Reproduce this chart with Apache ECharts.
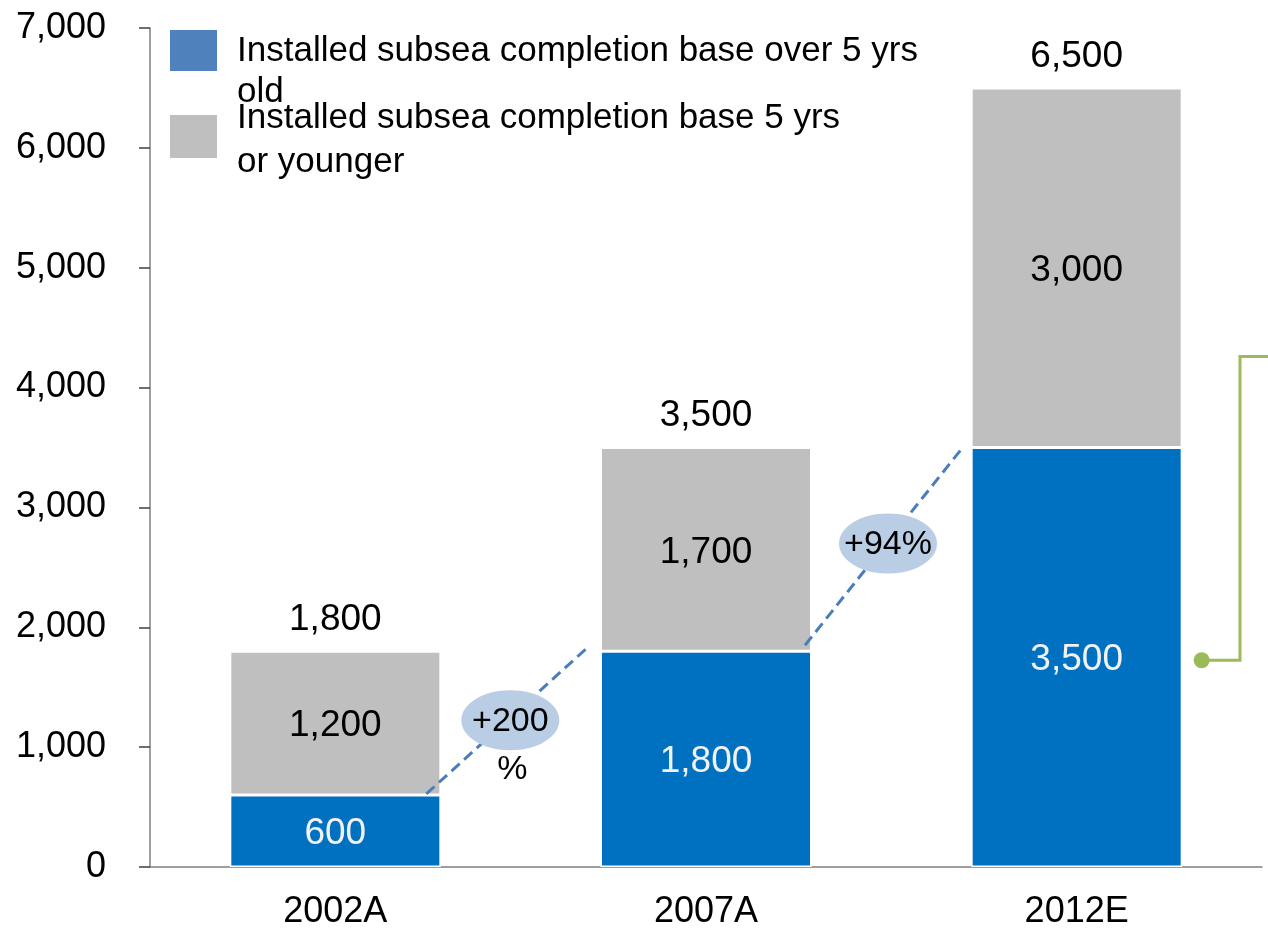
<!DOCTYPE html>
<html><head><meta charset="utf-8">
<script src="https://cdn.jsdelivr.net/npm/echarts@6/dist/echarts.min.js"></script>
<style>html,body{margin:0;padding:0;background:#fff}#c{width:1268px;height:937px}</style>
</head><body><div id="c"></div>
<script>
const categories = ['2002A', '2007A', '2012E'];
const over5 = [600, 1800, 3500];
const under5 = [1200, 1700, 3000];
const totals = [1800, 3500, 6500];
const growthLabels = ['+200\n%', '+94%'];
const legendNames = ['Installed subsea completion base over 5 yrs\nold', 'Installed subsea completion base 5 yrs\nor younger'];

const FONT = "'Liberation Sans', Arial, sans-serif";
const BLUE = '#0070c0', GREY = '#bfbfbf', LEG_BLUE = '#4f81bd';
const fmt = v => v.toLocaleString('en-US');

const chart = echarts.init(document.getElementById('c'));
chart.setOption({
  animation: false,
  backgroundColor: '#fff',
  grid: { left: 150, right: 6, top: 28, bottom: 70, containLabel: false },
  xAxis: {
    type: 'category', data: categories,
    axisLine: { lineStyle: { color: '#7f7f7f', width: 1.5 } },
    axisTick: { length: 11, lineStyle: { color: '#404040', width: 1.5 } },
    axisLabel: { color: '#000', fontFamily: FONT, fontSize: 36, margin: 27 }
  },
  yAxis: {
    type: 'value', min: 0, max: 7000, interval: 1000,
    splitLine: { show: false },
    axisLine: { show: true, lineStyle: { color: '#7f7f7f', width: 1.5 } },
    axisTick: { show: true, length: 11, lineStyle: { color: '#404040', width: 1.5 } },
    axisLabel: { color: '#000', fontFamily: FONT, fontSize: 36, margin: 44, formatter: v => fmt(v) }
  },
  series: [
    { name: legendNames[0], type: 'bar', stack: 's', data: over5, barWidth: 211,
      itemStyle: { color: BLUE, borderColor: '#fff', borderWidth: 1.5 },
      label: { show: true, position: 'inside', offset: [0, 3], color: '#f2f2f2', fontFamily: FONT, fontSize: 37, formatter: p => fmt(p.value) } },
    { name: legendNames[1], type: 'bar', stack: 's', data: under5, barWidth: 211,
      itemStyle: { color: GREY, borderColor: '#fff', borderWidth: 1.5 },
      label: { show: true, position: 'inside', offset: [0, 3], color: '#000', fontFamily: FONT, fontSize: 37, formatter: p => fmt(p.value) } },
    { name: 'total', type: 'bar', stack: 's', data: totals.map(() => 0), barWidth: 211,
      itemStyle: { color: 'transparent' },
      label: { show: true, position: 'top', distance: 13, color: '#000', fontFamily: FONT, fontSize: 37,
        formatter: p => fmt(totals[p.dataIndex]) } }
  ]
});

function px(catIdx, val) { return chart.convertToPixel({ gridIndex: 0 }, [catIdx, val]); }

const g = [];
// legend
g.push({ type: 'rect', shape: { x: 170, y: 30, width: 47, height: 41 }, style: { fill: LEG_BLUE } });
g.push({ type: 'rect', shape: { x: 170, y: 115, width: 47, height: 43 }, style: { fill: GREY } });
const legLineY = [[51.5, 92.5], [118.5, 162.5]];
legendNames.forEach((n, i) => {
  n.split('\n').forEach((t, k) => {
    g.push({ type: 'text', x: 237, y: legLineY[i][k], style: { text: t, font: '35px ' + FONT, fill: '#000', verticalAlign: 'middle' }, z: 10 });
  });
});

// growth dashed lines
const seg = [
  { a: px(0, over5[0] + 10), b: px(1, over5[1] + 35), ao: 91, bo: -118 },
  { a: px(1, over5[1] + 50), b: px(2, over5[2]), ao: 99, bo: -114 }
];
seg.forEach(s => {
  g.push({ type: 'line', shape: { x1: s.a[0] + s.ao, y1: s.a[1], x2: s.b[0] + s.bo, y2: s.b[1] },
    style: { stroke: '#4a7ebb', lineWidth: 3, lineDash: [11, 6] }, z: 5 });
});
// ellipses with growth labels
const ell = [ { c: px(0, 1225), dx: 175 }, { c: px(1, 2700), dx: 182 } ];
ell.forEach((e, i) => {
  const cx = e.c[0] + e.dx, cy = e.c[1];
  g.push({ type: 'ellipse', shape: { cx: cx, cy: cy, rx: 49, ry: 30 }, style: { fill: '#b9cde5' }, z: 6 });
  const lines = growthLabels[i].split('\n');
  lines.forEach((t, k) => {
    g.push({ type: 'text', x: cx + (k ? 2 : 0), y: cy + 1 + k * 48, style: { text: t, font: '34px ' + FONT, fill: '#000', align: 'center', verticalAlign: 'middle' }, z: 7 });
  });
});
// green connector
const d = px(2, over5[2] / 2);
const dotX = d[0] + 125, dotY = d[1] + 3;
const connTop = px(2, 4260)[1];
g.push({ type: 'polyline', shape: { points: [[dotX, dotY], [1240, dotY], [1240, connTop], [1270, connTop]] },
  style: { stroke: '#9bbb59', lineWidth: 3, fill: null }, z: 5 });
g.push({ type: 'circle', shape: { cx: dotX, cy: dotY, r: 8 }, style: { fill: '#9bbb59' }, z: 6 });

chart.setOption({ graphic: g });
</script></body></html>
